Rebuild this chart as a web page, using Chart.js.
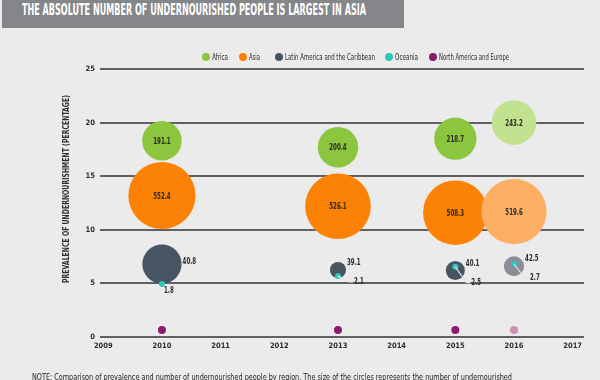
<!DOCTYPE html>
<html><head><meta charset="utf-8">
<script src="https://cdn.jsdelivr.net/npm/chart.js@4/dist/chart.umd.min.js"></script>
<style>
html,body{margin:0;padding:0;background:#ebebeb;}
#wrap{position:relative;width:600px;height:380px;overflow:hidden;background:#ebebeb;font-family:'Liberation Sans Narrow','DejaVu Sans Condensed','Arial Narrow',sans-serif;}
#titlebar{position:absolute;left:2px;top:0;width:402px;height:28px;background:#858689;}
#title{position:absolute;left:22px;top:3px;color:#fff;font-weight:bold;font-size:15px;line-height:15px;white-space:nowrap;transform-origin:0 0;}
.li{position:absolute;top:52px;height:10px;}
.dot{position:absolute;left:0;top:1px;width:8px;height:8px;border-radius:50%;}
.lt{position:absolute;left:10px;top:0;font-size:8.5px;line-height:10px;color:#2b2b2b;white-space:nowrap;transform-origin:0 0;display:inline-block;}
#note{position:absolute;left:32px;top:372px;font-size:9px;line-height:10px;color:#222;white-space:nowrap;transform-origin:0 0;}
canvas{position:absolute;left:0;top:0;}
</style></head>
<body>
<div id="wrap">
  <canvas id="c" width="600" height="380"></canvas>
  <div id="titlebar"></div>
  <div id="title">THE ABSOLUTE NUMBER OF UNDERNOURISHED PEOPLE IS LARGEST IN ASIA</div>
  <div id="legend"></div>
  <div id="note">NOTE: Comparison of prevalence and number of undernourished people by region. The size of the circles represents the number of undernourished</div>
</div>
<script>
// ---- data ----
const years = [2010, 2013, 2015, 2016];
const xTickYears = [2009, 2010, 2011, 2012, 2013, 2014, 2015, 2016, 2017];
const yTickValues = [0, 5, 10, 15, 20, 25];
const yAxisTitle = 'PREVALENCE OF UNDERNOURISHMENT (PERCENTAGE)';

const africaPrevalence = [18.3, 17.7, 18.5, 20.0];
const africaNumber = [191.1, 200.4, 218.7, 243.2];
const asiaPrevalence = [13.2, 12.2, 11.6, 11.7];
const asiaNumber = [552.4, 526.1, 508.3, 519.6];
const latamPrevalence = [6.8, 6.25, 6.2, 6.6];
const latamNumber = [40.8, 39.1, 40.1, 42.5];
const oceaniaPrevalence = [4.95, 5.7, 6.55, 6.8];
const oceaniaNumber = [1.8, 2.1, 2.5, 2.7];
const naePrevalence = [0.65, 0.65, 0.65, 0.65];

// ---- styles ----
const FONT = "'Liberation Sans Narrow','DejaVu Sans Condensed','Arial Narrow',sans-serif";
const K = 1.43;               // px per sqrt(million)
const latamScale = [2.15, 0.9, 1.05, 1.08];

function pts(prev, num){ return years.map((x,i)=>({x:x, y:prev[i], v: num ? num[i] : null})); }
function sizeFn(minR, scaleArr){
  return ctx => {
    const v = ctx.raw && ctx.raw.v;
    if (v == null) return minR;
    const s = scaleArr ? scaleArr[ctx.dataIndex] : 1;
    return Math.max(minR, K*Math.sqrt(v)*s);
  };
}

const datasets = [
  {label:'Africa', data: pts(africaPrevalence, africaNumber), order:3, labelMode:'inside',
   legendColor:'#8cc63f', backgroundColor:['#8cc63f','#8cc63f','#8cc63f','#c3e290'], radius:sizeFn(3)},
  {label:'Asia', data: pts(asiaPrevalence, asiaNumber), order:4, labelMode:'inside',
   legendColor:'#fb8204', backgroundColor:['#fb8204','#fb8204','#fb8204','#fdb064'], radius:sizeFn(3)},
  {label:'Latin America and the Caribbean', data: pts(latamPrevalence, latamNumber), order:2, labelMode:'right',
   legendColor:'#475563', backgroundColor:['#475563','#475563','#475563','#8c8e97'], radius:sizeFn(3, latamScale)},
  {label:'Oceania', data: pts(oceaniaPrevalence, oceaniaNumber), order:1, labelMode:'callout',
   legendColor:'#2ec6bd', backgroundColor:'#2ec6bd', radius:sizeFn(3)},
  {label:'North America and Europe', data: pts(naePrevalence, null), order:0, labelMode:null,
   legendColor:'#8b1b6e', backgroundColor:['#8b1b6e','#8b1b6e','#8b1b6e','#cf8fb4'], radius:sizeFn(4)}
];
datasets.forEach(d=>{ d.borderWidth = 0; d.hoverRadius = 0; });

function fit(el, w){ const r = el.getBoundingClientRect().width; el.style.transform = 'scaleX(' + (w/r) + ')'; }

// ---- legend (HTML) ----
const legendLeft = [202, 239, 275, 385, 429];
const legendTextW = [16, 11, 90, 23, 70];
const legendEl = document.getElementById('legend');
datasets.forEach((d,i)=>{
  const it = document.createElement('div'); it.className='li'; it.style.left = legendLeft[i]+'px';
  const dot = document.createElement('span'); dot.className='dot'; dot.style.background=d.legendColor;
  const t = document.createElement('span'); t.className='lt'; t.textContent = d.label;
  it.appendChild(dot); it.appendChild(t); legendEl.appendChild(it);
  fit(t, legendTextW[i]);
});

fit(document.getElementById('title'), 344);
fit(document.getElementById('note'), 480);

// ---- labels plugin ----
function condensedText(ctx, txt, x, y, f){
  const w = ctx.measureText(txt).width;
  ctx.fillText(txt, x, y, w*f);
}
const labelPlugin = {
  id:'bubbleLabels',
  afterDatasetsDraw(chart){
    const ctx = chart.ctx;
    ctx.save();
    ctx.font = 'bold 8.5px ' + FONT;
    ctx.fillStyle = '#2a2a2a';
    const latIdx = chart.data.datasets.findIndex(d=>d.labelMode==='right');
    const latMeta = chart.getDatasetMeta(latIdx);
    chart.data.datasets.forEach((ds, di)=>{
      if (!ds.labelMode) return;
      const meta = chart.getDatasetMeta(di);
      meta.data.forEach((el, i)=>{
        const txt = ds.data[i].v.toFixed(1);
        const r = el.options.radius;
        if (ds.labelMode==='inside'){
          ctx.textAlign='center'; ctx.textBaseline='middle';
          condensedText(ctx, txt, el.x, el.y+1, 0.72);
        } else if (ds.labelMode==='right'){
          ctx.textAlign='left'; ctx.textBaseline='middle';
          condensedText(ctx, txt, el.x + r + 1, el.y - (r > 15 ? 2 : 7), 0.72);
        } else {
          const lat = latMeta.data[i];
          const dist = Math.hypot(el.x-lat.x, el.y-lat.y);
          ctx.textAlign='left'; ctx.textBaseline='middle';
          if (dist > lat.options.radius - 1){
            condensedText(ctx, txt, el.x + 2, el.y + 7, 0.72);
          } else {
            const lx = lat.x + 11, ly = lat.y + 12;
            ctx.strokeStyle = 'rgba(228,228,228,0.95)'; ctx.lineWidth = 1.2;
            ctx.beginPath(); ctx.moveTo(el.x, el.y); ctx.lineTo(lx, ly); ctx.lineTo(lx+4, ly); ctx.stroke();
            condensedText(ctx, txt, lx + 5, ly, 0.72);
          }
        }
      });
    });
    // y axis title
    ctx.translate(67, 189); ctx.rotate(-Math.PI/2);
    ctx.textAlign='center'; ctx.textBaseline='middle';
    ctx.fillStyle = '#2f2f2f';
    ctx.font = 'bold 8.5px ' + FONT;
    ctx.fillText(yAxisTitle, 0, 0, 188);
    ctx.restore();
  }
};

new Chart(document.getElementById('c'), {
  type:'bubble',
  data:{datasets},
  options:{
    responsive:false, animation:false, events:[],
    layout:{autoPadding:false, padding:{top:69, right:16, left:0, bottom:0}},
    plugins:{legend:{display:false}, tooltip:{enabled:false}},
    elements:{point:{borderWidth:0}},
    clip:false,
    scales:{
      x:{type:'linear', min:2008.944, max:2017.193,
         afterBuildTicks: s => { s.ticks = xTickYears.map(v=>({value:v})); },
         afterFit: s => { s.height = 43; },
         grid:{display:false, drawTicks:false}, border:{display:false},
         ticks:{padding:5, color:'#2b2b2b', font:{family:FONT, size:7.5, weight:'bold'}, callback:v=>String(v), maxRotation:0, autoSkip:false}},
      y:{min:0, max:25,
         afterBuildTicks: s => { s.ticks = yTickValues.map(v=>({value:v})); },
         afterFit: s => { s.width = 100; },
         grid:{color:'#616163', lineWidth:2, drawTicks:false}, border:{display:false},
         ticks:{padding:5, color:'#2b2b2b', font:{family:FONT, size:7.5, weight:'bold'}, callback:v=>String(v)}}
    }
  },
  plugins:[labelPlugin]
});
</script>
</body></html>
